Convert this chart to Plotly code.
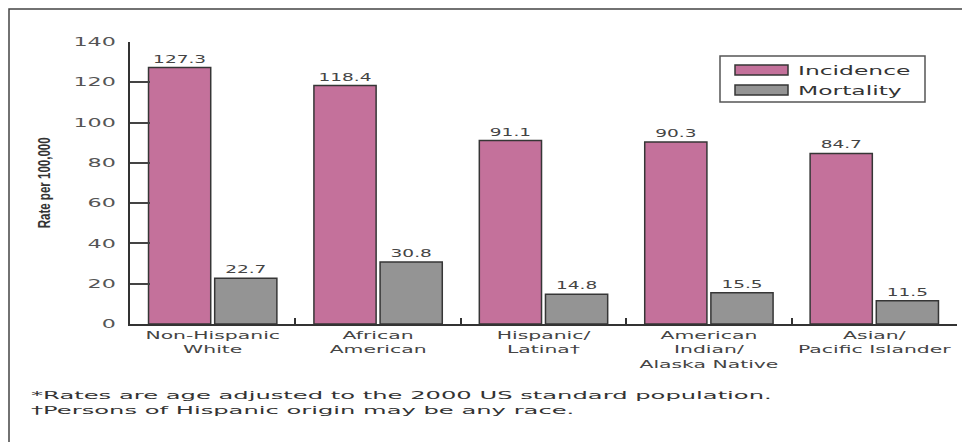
import json
import plotly.graph_objects as go

# Breast cancer incidence and mortality by race/ethnicity
categories = [
    "Non-Hispanic<br>White",
    "African<br>American",
    "Hispanic/<br>Latina†",
    "American<br>Indian/<br>Alaska Native",
    "Asian/<br>Pacific Islander",
]
series_names = ["Incidence", "Mortality"]
incidence = [127.3, 118.4, 91.1, 90.3, 84.7]
mortality = [22.7, 30.8, 14.8, 15.5, 11.5]
y_ticks = [0, 20, 40, 60, 80, 100, 120, 140]
y_title = "Rate per 100,000"
footnotes = [
    "*Rates are age adjusted to the 2000 US standard population.",
    "†Persons of Hispanic origin may be any race.",
]

colors = ["#C4719B", "#949494"]
edge = "#363636"
font = "DejaVu Sans"

fig = go.Figure()
for name, vals, col in zip(series_names, [incidence, mortality], colors):
    fig.add_trace(go.Bar(
        x=categories, y=vals, name=name,
        marker=dict(color=col, line=dict(color=edge, width=1.5)),
        texttemplate="%{y:.1f}", textposition="outside",
        textfont=dict(family=font, size=10, color="#444"),
        cliponaxis=False, showlegend=False,
    ))

# plot-area geometry in pixels, used to place the legend box and notes
W, H = 962, 442
L, R, T, B = 130, 5, 42, 118
pw, ph = W - L - R, H - T - B


def px(x):
    return (x - L) / pw


def py(y):
    return (H - B - y) / ph


shapes = [
    # outer frame
    dict(type="rect", xref="paper", yref="paper",
         x0=px(9), x1=px(980), y0=py(460), y1=py(9),
         line=dict(color="#444", width=1.5), fillcolor="rgba(0,0,0,0)", layer="below"),
    # legend box
    dict(type="rect", xref="paper", yref="paper",
         x0=px(720), x1=px(925), y0=py(102), y1=py(56),
         line=dict(color="#555", width=1.5), fillcolor="white"),
]
# each annotation carries a horizontal stretch factor for its lettering
annotations, ann_stretch = [], []
annotations.append(dict(text="<b>%s</b>" % y_title, xref="paper", yref="paper",
                        x=px(44), y=py(183), xanchor="center", yanchor="middle",
                        textangle=-90, showarrow=False,
                        font=dict(family="Liberation Sans", size=16, color="#333")))
ann_stretch.append(0.72)
for i, (name, col) in enumerate(zip(series_names, colors)):
    cy = 70 + 20 * i
    shapes.append(dict(type="rect", xref="paper", yref="paper",
                       x0=px(735), x1=px(788), y0=py(cy + 5), y1=py(cy - 5),
                       line=dict(color=edge, width=1.5), fillcolor=col))
    annotations.append(dict(text=name, xref="paper", yref="paper",
                            x=px(796), y=py(cy), xanchor="left", yanchor="middle",
                            align="left", showarrow=False,
                            font=dict(family=font, size=13, color="#333")))
    ann_stretch.append(1.8)
for i, note in enumerate(footnotes):
    annotations.append(dict(text=note, xref="paper", yref="paper",
                            x=px(29), y=py(395 + 15 * i), xanchor="left", yanchor="middle",
                            align="left", showarrow=False,
                            font=dict(family=font, size=11, color="#333")))
    ann_stretch.append(2.2)

fig.update_layout(
    width=W, height=H,
    margin=dict(l=L, r=R, t=T, b=B),
    paper_bgcolor="white", plot_bgcolor="white",
    barmode="group", bargap=0.2, bargroupgap=0.06,
    shapes=shapes, annotations=annotations,
    xaxis=dict(
        showline=True, linecolor="#333", linewidth=1.5,
        ticks="inside", ticklen=6, tickwidth=1.5, tickcolor="#333",
        tickson="boundaries", showgrid=False,
        tickfont=dict(family=font, size=11, color="#444"),
    ),
    yaxis=dict(
        range=[0, 140], tickvals=y_ticks,
        showline=True, linecolor="#333", linewidth=1.5,
        ticks="inside", ticklen=20, tickwidth=1.5, tickcolor="#444",
        showgrid=False, zeroline=False, ticklabelstandoff=10,
        tickfont=dict(family=font, size=12, color="#555"),
    ),
)

# stretch the lettering along its baseline
post_script = """
var gd = document.getElementById('{plot_id}');
var K = 1.85;
var ANN = %s;
function widen(el, k) {
  var w = el.getComputedTextLength();
  if (w > 0) {
    el.setAttribute('textLength', (w * k).toFixed(1));
    el.setAttribute('lengthAdjust', 'spacingAndGlyphs');
  }
}
function widenText(t, k) {
  var lines = t.querySelectorAll('tspan.line');
  if (lines.length) { lines.forEach(function(s){ widen(s, k); }); }
  else { widen(t, k); }
}
gd.querySelectorAll('.xtick text, .ytick text, .bartext').forEach(function(t){ widenText(t, K); });
gd.querySelectorAll('.annotation').forEach(function(a){
  var k = ANN[parseInt(a.getAttribute('data-index'), 10)] || 1;
  a.querySelectorAll('text.annotation-text').forEach(function(t){ widenText(t, k); });
});
""" % json.dumps(ann_stretch)

fig.write_html("out.html", post_script=post_script)
